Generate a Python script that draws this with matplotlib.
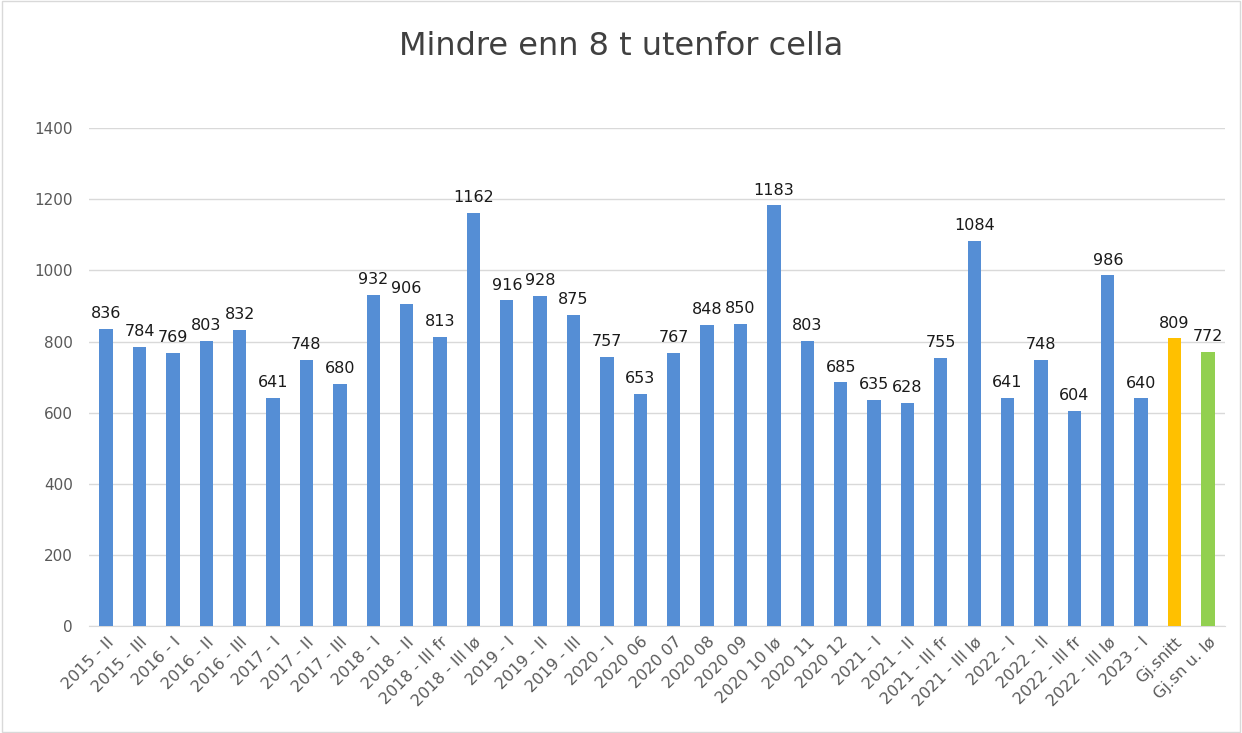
import matplotlib.pyplot as plt
import numpy as np

labels = ['2015 - II', '2015 - III', '2016 - I', '2016 - II', '2016 - III',
          '2017 - I', '2017 - II', '2017 - III', '2018 - I', '2018 - II',
          '2018 - III fr', '2018 - III lø', '2019 - I', '2019 - II', '2019 - III',
          '2020 - I', '2020 06', '2020 07', '2020 08', '2020 09', '2020 10 lø',
          '2020 11', '2020 12', '2021 - I', '2021 - II', '2021 - III fr',
          '2021 - III lø', '2022 - I', '2022 - II', '2022 - III fr', '2022 - III lø',
          '2023 - I', 'Gj.snitt', 'Gj.sn u. lø']
values = [836, 784, 769, 803, 832, 641, 748, 680, 932, 906, 813, 1162, 916, 928, 875,
          757, 653, 767, 848, 850, 1183, 803, 685, 635, 628, 755, 1084, 641, 748, 604,
          986, 640, 809, 772]

blue = '#558ED5'
colors = [blue] * (len(values) - 2) + ['#FFC000', '#92D050']

fig = plt.figure(figsize=(12.42, 7.33), dpi=100)
ax = fig.add_axes([0.072, 0.146, 0.914, 0.679])

x = np.arange(len(values))
ax.bar(x, values, width=0.4, color=colors, zorder=3)
for xi, v in zip(x, values):
    ax.text(xi, v + 22, str(v), ha='center', va='bottom', fontsize=11.5, color='#1a1a1a')

ax.set_xlim(-0.5, len(values) - 0.5)
ax.set_ylim(0, 1400)
ax.set_yticks(range(0, 1401, 200))
ax.yaxis.grid(True, color='#D9D9D9', linewidth=1, zorder=0)
ax.set_xticks(x)
ax.set_xticklabels(labels, rotation=45, ha='right', rotation_mode='anchor', fontsize=11.5, color='#595959')
ax.tick_params(axis='y', labelsize=11, colors='#595959', length=0, pad=12)
ax.tick_params(axis='x', length=0, pad=6)
for s in ['top', 'right', 'left']:
    ax.spines[s].set_visible(False)
ax.spines['bottom'].set_color('#D9D9D9')

fig.text(0.5, 0.937, 'Mindre enn 8 t utenfor cella', ha='center', va='center', fontsize=23, color='#404040')

# thin border around the chart
fig.patches.append(plt.Rectangle((0.002, 0.002), 0.996, 0.996, transform=fig.transFigure,
                                 fill=False, edgecolor='#D9D9D9', linewidth=1))

plt.savefig('out.png', dpi=100)
